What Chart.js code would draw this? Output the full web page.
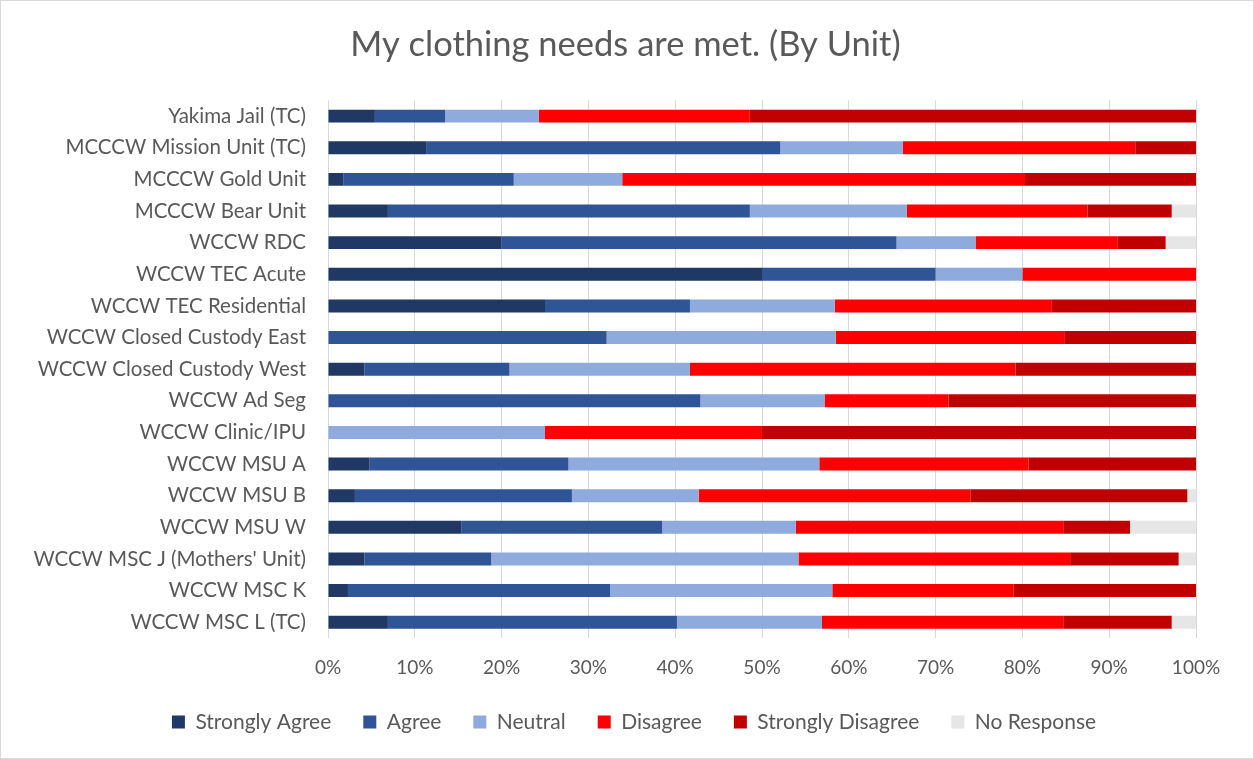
<!DOCTYPE html>
<html>
<head>
<meta charset="utf-8">
<script src="https://cdn.jsdelivr.net/npm/chart.js@4"></script>
<style>
    html, body { margin: 0; padding: 0; background: #fff; }
    #wrap {
        width: 1254px; height: 759px; box-sizing: border-box;
        border: 1px solid #d9d9d9; position: relative;
    }
</style>
</head>
<body>
<div id="wrap"><canvas id="chart"></canvas></div>
<script>
const UNITS = [
    'Yakima Jail (TC)',
    'MCCCW Mission Unit (TC)',
    'MCCCW Gold Unit',
    'MCCCW Bear Unit',
    'WCCW RDC',
    'WCCW TEC Acute',
    'WCCW TEC Residential',
    'WCCW Closed Custody East',
    'WCCW Closed Custody West',
    'WCCW Ad Seg',
    'WCCW Clinic/IPU',
    'WCCW MSU A',
    'WCCW MSU B',
    'WCCW MSU W',
    "WCCW MSC J (Mothers' Unit)",
    'WCCW MSC K',
    'WCCW MSC L (TC)',
]

// percent of responses per unit, same order as UNITS
const strongly_agree    = [5.4, 11.3, 1.8, 6.9, 20.0, 50, 25.0, 0, 4.2, 0, 0, 4.8, 3.1, 15.4, 4.2, 2.3, 6.9]
const agree             = [8.1, 40.8, 19.6, 41.7, 45.5, 20, 16.7, 32.1, 16.7, 42.9, 0, 22.9, 25.0, 23.1, 14.6, 30.2, 33.3]
const neutral           = [10.8, 14.1, 12.5, 18.1, 9.1, 10, 16.7, 26.4, 20.8, 14.3, 25, 28.9, 14.6, 15.4, 35.4, 25.6, 16.7]
const disagree          = [24.3, 26.8, 46.4, 20.8, 16.4, 20, 25.0, 26.4, 37.5, 14.3, 25, 24.1, 31.3, 30.8, 31.3, 20.9, 27.8]
const strongly_disagree = [51.4, 7.0, 19.7, 9.7, 5.5, 0, 16.6, 15.1, 20.8, 28.5, 50, 19.3, 25.0, 7.7, 12.5, 21.0, 12.5]
const no_response       = [0, 0, 0, 2.8, 3.5, 0, 0, 0, 0, 0, 0, 0, 1.0, 7.6, 2.0, 0, 2.8]

const X_TICKS = [0, 10, 20, 30, 40, 50, 60, 70, 80, 90, 100]

const FONT = 'Lato, "Liberation Sans", sans-serif'
const GREY_TEXT = '#595959'

const series = [
    { label: 'Strongly Agree', color: '#203864', values: strongly_agree },
    { label: 'Agree', color: '#2f5597', values: agree },
    { label: 'Neutral', color: '#8faadc', values: neutral },
    { label: 'Disagree', color: '#ff0000', values: disagree },
    { label: 'Strongly Disagree', color: '#c00000', values: strongly_disagree },
    { label: 'No Response', color: '#e7e6e6', values: no_response },
]

// title and legend are centred on the whole chart, not on the plot
const center_boxes = {
    id: 'center_boxes',
    afterLayout (chart) {
        const place = (box, cx) => {
            if (!box) return
            const w = box.right - box.left
            box.left = cx - w / 2
            box.right = cx + w / 2
        }
        place(chart.titleBlock, 624.5)
        place(chart.legend, 633)
    },
}

const ctx = document.getElementById('chart').getContext('2d')
new Chart(ctx, {
    type: 'bar',
    data: {
        labels: UNITS,
        datasets: series.map((s) => ({
            label: s.label,
            data: s.values,
            backgroundColor: s.color,
            borderWidth: 0,
            barPercentage: 0.41,
            categoryPercentage: 1,
        })),
    },
    plugins: [center_boxes],
    options: {
        indexAxis: 'y',
        responsive: true,
        maintainAspectRatio: false,
        animation: false,
        layout: { padding: { left: 0, right: 57, top: 0, bottom: 15.5 } },
        plugins: {
            title: {
                display: true,
                text: 'My clothing needs are met. (By Unit)',
                color: GREY_TEXT,
                font: { family: FONT, size: 34.5, weight: 'normal' },
                padding: { top: 23.1, bottom: 34.8 },
            },
            legend: {
                position: 'bottom',
                labels: {
                    color: GREY_TEXT,
                    font: { family: FONT, size: 21 },
                    boxWidth: 13,
                    boxHeight: 13,
                    padding: 32,
                },
            },
            tooltip: { enabled: false },
        },
        scales: {
            x: {
                stacked: true,
                min: 0,
                max: 100,
                afterBuildTicks: (scale) => {
                    scale.ticks = X_TICKS.map((v) => ({ value: v }))
                },
                ticks: {
                    color: GREY_TEXT,
                    font: { family: FONT, size: 19 },
                    padding: 18,
                    callback: (v) => v + '%',
                },
                grid: { color: '#d9d9d9', lineWidth: 1, drawTicks: false },
                border: { display: false },
                afterFit: (scale) => { scale.height = 41.5 },
            },
            y: {
                stacked: true,
                ticks: {
                    color: GREY_TEXT,
                    font: { family: FONT, size: 20.5 },
                    padding: 22,
                },
                grid: { display: false, drawTicks: false },
                border: { display: false },
                afterFit: (scale) => { scale.width = 327 },
            },
        },
    },
})
</script>
</body>
</html>
